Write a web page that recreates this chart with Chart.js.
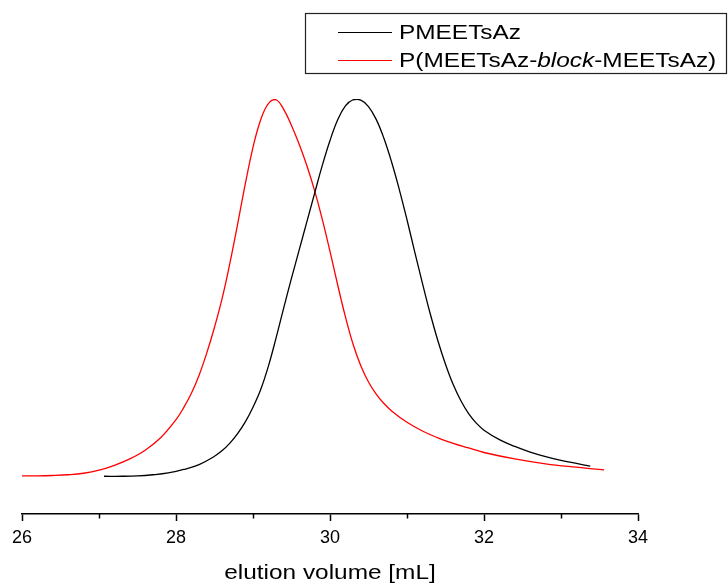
<!DOCTYPE html>
<html>
<head>
<meta charset="utf-8">
<script src="https://cdn.jsdelivr.net/npm/chart.js@4.4.1/dist/chart.umd.min.js"></script>
<style>
  html, body { margin: 0; padding: 0; background: #fff; }
  #wrap { position: relative; width: 728px; height: 586px; }
</style>
</head>
<body>
<div id="wrap"><canvas id="c" width="728" height="586"></canvas></div>
<script>
// Elution volume (mL) and normalised detector signal for each polymer
const homoVolume  = [27.065, 27.3, 27.5, 27.7, 27.9, 28.1, 28.3, 28.5, 28.6, 28.7, 28.8, 28.9, 29.0, 29.1, 29.2, 29.3, 29.4, 29.5, 29.6, 29.7, 29.8, 29.9, 30.0, 30.1, 30.2, 30.3, 30.4, 30.5, 30.6, 30.7, 30.8, 30.9, 31.0, 31.1, 31.2, 31.3, 31.4, 31.5, 31.6, 31.7, 31.8, 31.9, 32.0, 32.2, 32.4, 32.6, 32.8, 33.0, 33.2, 33.38];
const homoSignal  = [0.000, 0.000, 0.001, 0.004, 0.009, 0.018, 0.031, 0.053, 0.068, 0.088, 0.113, 0.144, 0.183, 0.230, 0.292, 0.367, 0.447, 0.525, 0.600, 0.675, 0.750, 0.824, 0.890, 0.945, 0.982, 0.998, 0.997, 0.980, 0.946, 0.896, 0.833, 0.760, 0.680, 0.595, 0.512, 0.432, 0.360, 0.297, 0.243, 0.200, 0.166, 0.141, 0.122, 0.097, 0.079, 0.064, 0.052, 0.042, 0.034, 0.027];
const blockVolume = [26.0, 26.2, 26.4, 26.6, 26.8, 27.0, 27.2, 27.4, 27.6, 27.8, 28.0, 28.1, 28.2, 28.3, 28.4, 28.5, 28.6, 28.7, 28.8, 28.9, 29.0, 29.1, 29.2, 29.3, 29.4, 29.5, 29.6, 29.7, 29.8, 29.9, 30.0, 30.1, 30.2, 30.3, 30.4, 30.5, 30.6, 30.7, 30.8, 31.0, 31.2, 31.4, 31.6, 31.8, 32.0, 32.4, 32.8, 33.2, 33.56];
const blockSignal = [0.001, 0.001, 0.002, 0.004, 0.008, 0.016, 0.029, 0.046, 0.069, 0.102, 0.150, 0.182, 0.220, 0.268, 0.327, 0.395, 0.472, 0.565, 0.668, 0.775, 0.872, 0.945, 0.988, 0.998, 0.972, 0.930, 0.880, 0.823, 0.757, 0.681, 0.596, 0.507, 0.423, 0.350, 0.293, 0.250, 0.218, 0.193, 0.173, 0.143, 0.120, 0.102, 0.087, 0.075, 0.063, 0.046, 0.033, 0.024, 0.017];
const seriesNames = ['PMEETsAz', 'P(MEETsAz-block-MEETsAz)'];
const seriesColors = ['#000000', '#ff0000'];
const xTicks = [26, 28, 30, 32, 34];
const xMinorTicks = [27, 29, 31, 33];
const xTitle = 'elution volume [mL]';

const FONT = 'Arial, "Liberation Sans", sans-serif';
const WIDE = 1.22; // horizontal stretch of the legend and axis-title lettering

function pairs(xs, ys) { return xs.map((x, i) => ({ x: x, y: ys[i] })); }

// Odd-valued minor tick marks below the x axis, plus the axis title
const axisExtras = {
  id: 'axisExtras',
  afterDraw(chart) {
    const sx = chart.scales.x, ctx = chart.ctx, y0 = chart.chartArea.bottom;
    ctx.save();
    ctx.strokeStyle = '#000';
    ctx.lineWidth = 1.5;
    xMinorTicks.forEach(v => {
      const px = Math.round(sx.getPixelForValue(v)) + 0.5;
      ctx.beginPath();
      ctx.moveTo(px, y0);
      ctx.lineTo(px, y0 + 4.5);
      ctx.stroke();
    });
    const cx = (chart.chartArea.left + chart.chartArea.right) / 2;
    ctx.translate(cx, 573);
    ctx.scale(WIDE, 1);
    ctx.font = '20px ' + FONT;
    ctx.fillStyle = '#000';
    ctx.textAlign = 'center';
    ctx.textBaseline = 'middle';
    ctx.fillText(xTitle, 0, 0);
    ctx.restore();
  }
};

// Boxed legend in the upper right, with the italic "block" in the copolymer name
const boxLegend = {
  id: 'boxLegend',
  afterDraw(chart) {
    const ctx = chart.ctx;
    ctx.save();
    ctx.strokeStyle = '#222';
    ctx.lineWidth = 1.2;
    ctx.strokeRect(305.5, 13.5, 421, 60);
    const rows = [32, 60];
    chart.data.datasets.forEach((ds, i) => {
      const y = rows[i];
      ctx.strokeStyle = ds.borderColor;
      ctx.lineWidth = 1.2;
      ctx.beginPath();
      ctx.moveTo(338, y + 0.5);
      ctx.lineTo(392, y + 0.5);
      ctx.stroke();
      ctx.fillStyle = '#000';
      ctx.textBaseline = 'middle';
      const parts = i === 0 ? [[ds.label, false]]
        : [['P(MEETsAz-', false], ['block', true], ['-MEETsAz)', false]];
      ctx.save();
      ctx.translate(399, y + 1);
      ctx.scale(WIDE, 1);
      let x = 0;
      parts.forEach(([t, it]) => {
        ctx.font = (it ? 'italic ' : '') + '20px ' + FONT;
        ctx.fillText(t, x, 0);
        x += ctx.measureText(t).width;
      });
      ctx.restore();
    });
    ctx.restore();
  }
};

new Chart(document.getElementById('c'), {
  type: 'line',
  data: {
    datasets: [
      { label: seriesNames[0], data: pairs(homoVolume, homoSignal), borderColor: seriesColors[0], borderWidth: 1.3, pointRadius: 0, tension: 0.4, fill: false },
      { label: seriesNames[1], data: pairs(blockVolume, blockSignal), borderColor: seriesColors[1], borderWidth: 1.3, pointRadius: 0, tension: 0.4, fill: false }
    ]
  },
  options: {
    responsive: false,
    animation: false,
    layout: { padding: { left: 22, right: 90, top: 99, bottom: 0 } },
    plugins: { legend: { display: false }, tooltip: { enabled: false } },
    scales: {
      x: {
        type: 'linear',
        min: 26, max: 34,
        afterBuildTicks(scale) { scale.ticks = xTicks.map(v => ({ value: v })); },
        afterFit(scale) { scale.height = 72; },
        border: { display: true, color: '#000', width: 1.5 },
        grid: { drawOnChartArea: false, drawTicks: true, tickLength: 7, tickColor: '#000', tickWidth: 1.5 },
        ticks: { color: '#000', font: { family: FONT, size: 18 }, padding: 6, maxRotation: 0, autoSkip: false },
        title: { display: false }
      },
      y: {
        display: false,
        min: -0.1, max: 1.0
      }
    }
  },
  plugins: [axisExtras, boxLegend]
});
</script>
</body>
</html>
